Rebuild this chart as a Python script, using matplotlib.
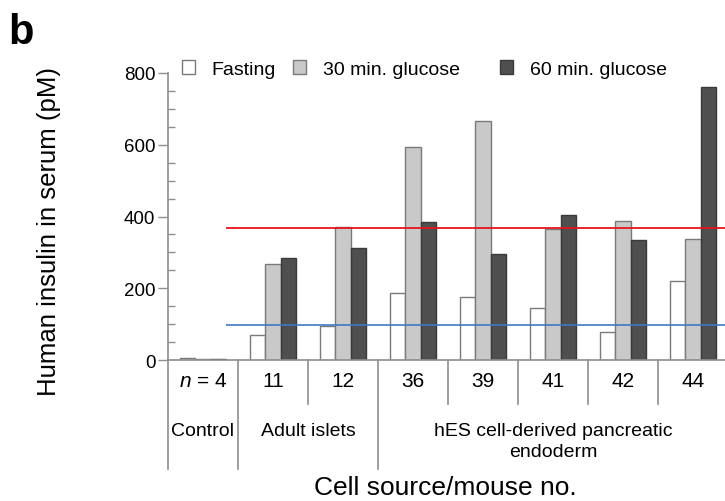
import numpy as np
import matplotlib.pyplot as plt
from matplotlib.patches import Patch
import matplotlib.transforms as mtransforms

plt.rcParams['font.family'] = ['Liberation Sans', 'DejaVu Sans']
plt.rcParams['mathtext.fontset'] = 'custom'
plt.rcParams['mathtext.it'] = 'Liberation Sans:italic'
plt.rcParams['mathtext.rm'] = 'Liberation Sans'

groups = [r'$n$ = 4', '11', '12', '36', '39', '41', '42', '44']
fasting = [6, 70, 94, 187, 175, 144, 79, 219]
glucose30 = [3, 267, 370, 594, 667, 365, 388, 337]
glucose60 = [2, 283, 311, 384, 295, 404, 334, 762]
categories = ['Control', 'Adult islets', 'hES cell-derived pancreatic\nendoderm']
cat_groups = [[0], [1, 2], [3, 4, 5, 6, 7]]
series = ['Fasting', '30 min. glucose', '60 min. glucose']
red_level = 367
blue_level = 98

W, H = 725, 502
fig = plt.figure(figsize=(W / 100, H / 100), dpi=100)
ax = fig.add_axes([168 / W, (H - 361) / H, (W - 168) / W, 287 / H])

x = np.arange(len(groups))
bw = 0.215
edge = '#7a7a7a'
faces = ['white', '#c9c9c9', '#4f4f4f']
edges = [edge, edge, '#3a3a3a']
for k, vals in enumerate([fasting, glucose30, glucose60]):
    ax.bar(x + (k - 1) * bw, vals, bw, color=faces[k], edgecolor=edges[k],
           linewidth=1)

ax.set_xlim(-0.5, (W - 168) / 70 - 0.5)
ax.set_ylim(0, 800)
ax.hlines(red_level, 0.33, 8, color='#e8131b', linewidth=1.3, zorder=5)
ax.hlines(blue_level, 0.33, 8, color='#3d78c4', linewidth=1.2, zorder=5)

axis_grey = '#8e8e8e'
for s in ['top', 'right']:
    ax.spines[s].set_visible(False)
for s in ['left', 'bottom']:
    ax.spines[s].set_color(axis_grey)
    ax.spines[s].set_linewidth(1.2)

ax.set_yticks([0, 200, 400, 600, 800])
ax.set_yticks(np.arange(0, 801, 50), minor=True)
ax.tick_params(axis='y', which='major', direction='out', length=7, width=1,
               color=axis_grey, labelsize=13.5, pad=2)
ax.tick_params(axis='y', which='minor', direction='in', length=5, width=1,
               color=axis_grey)
ax.set_xticks(x)
ax.set_xticklabels(groups, fontsize=15)
ax.tick_params(axis='x', length=0, pad=8)

# group separators below the axis (long ones between categories)
trans = mtransforms.blended_transform_factory(ax.transData, ax.transAxes)
bounds = np.arange(len(groups)) - 0.5
long_b = [-0.5, 0.5, 2.5]
for b in bounds:
    low = -0.38 if b in long_b else -0.155
    ax.plot([b, b], [0, low], transform=trans, color=axis_grey,
            linewidth=1.2, clip_on=False)

for name, gs in zip(categories, cat_groups):
    cx = (gs[0] + gs[-1]) / 2
    ax.text(cx, -0.215, name, transform=trans, ha='center', va='top',
            fontsize=14, linespacing=1.3)

fig.text(445 / W, 1 - 488 / H, 'Cell source/mouse no.', ha='center',
         va='center', fontsize=19)
fig.text(49 / W, 1 - 232 / H, 'Human insulin in serum (pM)', ha='center',
         va='center', rotation=90, fontsize=18.5)
fig.text(8 / W, 1 - 44 / H, 'b', ha='left', va='baseline', fontsize=30,
         fontweight='bold')

legend_x = [182, 293, 500]
for k in range(3):
    h = Patch(facecolor=faces[k], edgecolor=edges[k], label=series[k])
    fig.legend(handles=[h], frameon=False, fontsize=14,
               loc='center left', bbox_to_anchor=(legend_x[k] / W, 1 - 70 / H),
               handlelength=0.67, handleheight=0.67, handletextpad=0.85,
               borderpad=0, borderaxespad=0)

fig.savefig('out.png', dpi=100)
